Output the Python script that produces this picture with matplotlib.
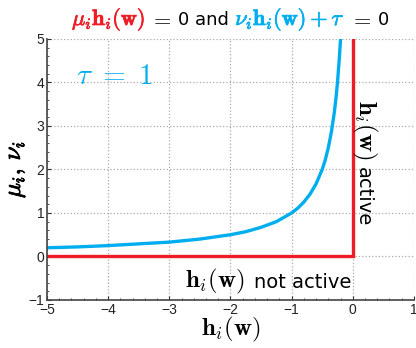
import matplotlib
matplotlib.use("Agg")
import matplotlib.pyplot as plt
import matplotlib.patheffects as pe
from matplotlib.ticker import MultipleLocator

plt.rcParams['mathtext.fontset'] = 'cm'

# 数据
h_blue = [-5.0, -4.5, -4.0, -3.5, -3.0, -2.5, -2.0, -1.75, -1.5, -1.25, -1.0,
          -0.9, -0.8, -0.7, -0.6, -0.5, -0.45, -0.4, -0.35, -0.3, -0.27, -0.25, -0.22, -0.2]
nu_blue = [0.2, 0.22, 0.25, 0.29, 0.33, 0.4, 0.5, 0.57, 0.67, 0.8, 1.0,
           1.11, 1.25, 1.43, 1.67, 2.0, 2.22, 2.5, 2.86, 3.33, 3.7, 4.0, 4.55, 5.0]
h_red = [-5, 0, 0]
mu_red = [0, 0, 5]
xticks = [-5, -4, -3, -2, -1, 0, 1]
yticks = [-1, 0, 1, 2, 3, 4, 5]

red = '#ee1c25'
blue = '#00aeef'
bold = [pe.withStroke(linewidth=0.6, foreground='black')]

fig = plt.figure(figsize=(4.16, 3.48), dpi=100)
ax = fig.add_axes([0.113, 0.138, 0.882, 0.75])
renderer = fig.canvas.get_renderer()


# 把几段文字排成一行（同一基线），gap 单位为像素
def text_row(pieces, x, y, trans, ha='left', rotation=0):
    texts = []
    for s, color, size, fam, gap in pieces:
        t = fig.text(0, 0, s, color=color, fontsize=size, family=fam,
                     va='baseline', ha='left', rotation=rotation,
                     rotation_mode='anchor')
        if color != 'black' and s.startswith('$'):
            t.set_path_effects([pe.withStroke(linewidth=0.5, foreground=color)])
        texts.append((t, gap))
    widths = []
    for t, gap in texts:
        bb = t.get_window_extent(renderer)
        widths.append((bb.height if rotation else bb.width) + gap)
    total = sum(widths) - texts[-1][1]
    x0, y0 = trans.transform((x, y))
    if ha == 'center':
        x0 -= total / 2
    elif ha == 'right':
        x0 -= total
    pos = 0
    for (t, gap), w in zip(texts, widths):
        if rotation:
            t.set_position(fig.transFigure.inverted().transform((x0, y0 - pos)))
        else:
            t.set_position(fig.transFigure.inverted().transform((x0 + pos, y0)))
        pos += w


ax.plot(h_blue, nu_blue, color=blue, lw=2.4, solid_capstyle='butt')
ax.plot(h_red, mu_red, color=red, lw=2.4, solid_joinstyle='miter')

ax.set_xlim(-5, 1)
ax.set_ylim(-1, 5)
ax.set_xticks(xticks)
ax.set_yticks(yticks)
ax.xaxis.set_minor_locator(MultipleLocator(0.2))
ax.yaxis.set_minor_locator(MultipleLocator(0.2))
ax.tick_params(which='both', direction='in', colors='#333333', labelcolor='#222222',
               labelsize=10, pad=2)
ax.tick_params(which='major', length=3)
ax.tick_params(which='minor', length=1.5)
for lbl in ax.get_xticklabels() + ax.get_yticklabels():
    lbl.set_family('Liberation Sans')
ax.grid(True, linestyle=':', color='#aaaaaa', lw=0.9)
ax.spines['top'].set_visible(False)
ax.spines['right'].set_visible(False)
ax.spines['left'].set_color('#444444')
ax.spines['bottom'].set_color('#444444')
ax.spines['left'].set_linewidth(1.2)
ax.spines['bottom'].set_linewidth(1.2)

ax.set_xlabel(r'$\mathbf{h}_i(\mathbf{w})$', fontsize=18, labelpad=-1)
yl = ax.set_ylabel(r'$\mu_i,\,\nu_i$', fontsize=18, labelpad=1)
yl.set_path_effects(bold)

ax.text(-4.52, 4.15, r'$\tau\ =\ 1$', color=blue, fontsize=21, va='center')

text_row([(r'$\mathbf{h}_i(\mathbf{w})$', 'black', 18, None, 10),
          ('not active', 'black', 14, 'DejaVu Sans', 0)],
         -0.02, -0.72, ax.transData, ha='right')
text_row([(r'$\mathbf{h}_i(\mathbf{w})$', 'black', 18, None, 8),
          ('active', 'black', 14, 'DejaVu Sans', 0)],
         0.09, 3.6, ax.transData, rotation=270)

# 多色标题
text_row([(r'$\mu_i\mathbf{h}_i(\mathbf{w})$', red, 16, None, 5),
          (r'$=$', 'black', 16, None, 6),
          ('0 and', 'black', 13, 'DejaVu Sans', 6),
          (r'$\nu_i\mathbf{h}_i(\mathbf{w}) + \tau$', blue, 16, None, 5),
          (r'$=$', 'black', 16, None, 6),
          ('0', 'black', 13, 'DejaVu Sans', 0)],
         0.5 * (0.113 + 0.995), 1 - 25 / 348, fig.transFigure, ha='center')

fig.savefig('out.png', dpi=100)
